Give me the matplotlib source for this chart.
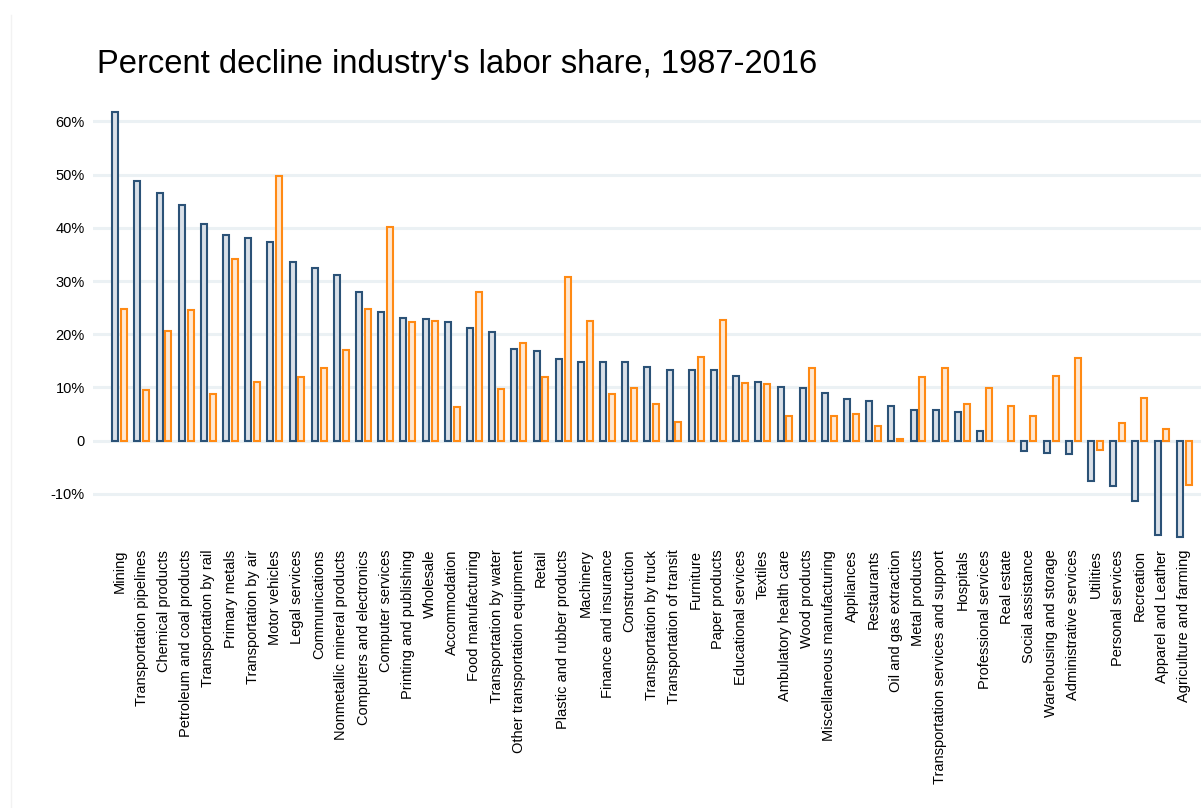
import matplotlib
matplotlib.use('Agg')
import matplotlib.pyplot as plt
import numpy as np

# Industries, sorted by the first series
industries = [
    'Mining', 'Transportation pipelines', 'Chemical products', 'Petroleum and coal products',
    'Transportation by rail', 'Primary metals', 'Transportation by air', 'Motor vehicles',
    'Legal services', 'Communications', 'Nonmetallic mineral products', 'Computers and electronics',
    'Computer services', 'Printing and publishing', 'Wholesale', 'Accommodation',
    'Food manufacturing', 'Transportation by water', 'Other transportation equipment', 'Retail',
    'Plastic and rubber products', 'Machinery', 'Finance and insurance', 'Construction',
    'Transportation by truck', 'Transportation of transit', 'Furniture', 'Paper products',
    'Educational services', 'Textiles', 'Ambulatory health care', 'Wood products',
    'Miscellaneous manufacturing', 'Appliances', 'Restaurants', 'Oil and gas extraction',
    'Metal products', 'Transportation services and support', 'Hospitals', 'Professional services',
    'Real estate', 'Social assistance', 'Warehousing and storage', 'Administrative services',
    'Utilities', 'Personal services', 'Recreation', 'Apparel and Leather', 'Agriculture and farming',
]

# percent decline (blue series)
decline_a = [
    61.7, 48.8, 46.5, 44.2, 40.7, 38.7, 38.0, 37.3, 33.6, 32.5, 31.1, 27.9, 24.2, 23.0, 22.8,
    22.3, 21.1, 20.5, 17.3, 16.9, 15.4, 14.7, 14.7, 14.7, 13.8, 13.2, 13.2, 13.2, 12.1, 11.1,
    10.1, 9.9, 8.9, 7.8, 7.5, 6.5, 5.8, 5.7, 5.3, 1.9, np.nan, -1.9, -2.3, -2.5, -7.6, -8.6,
    -11.3, -17.7, -18.1,
]

# percent decline (orange series)
decline_b = [
    24.8, 9.5, 20.7, 24.6, 8.8, 34.2, 11.0, 49.7, 12.0, 13.7, 17.1, 24.8, 40.2, 22.3, 22.5,
    6.4, 27.9, 9.8, 18.4, 11.9, 30.7, 22.4, 8.8, 9.9, 6.9, 3.6, 15.7, 22.6, 10.9, 10.6,
    4.7, 13.6, 4.6, 5.1, 2.8, 0.4, 11.9, 13.7, 6.9, 9.9, 6.6, 4.7, 12.1, 15.6, -1.7, 3.3,
    8.1, 2.2, -8.3,
]

yticks = [-10, 0, 10, 20, 30, 40, 50, 60]
ytick_labels = ['-10%', '0', '10%', '20%', '30%', '40%', '50%', '60%']

plt.rcParams['font.family'] = ['Liberation Sans', 'DejaVu Sans']

fig = plt.figure(figsize=(12.01, 8.08), dpi=100)
ax = fig.add_axes([93 / 1201, 1 - 540 / 808, 1 - 93 / 1201, 440 / 808])

x = np.arange(len(industries))
w = 0.27
ax.bar(x - 0.2, decline_a, width=w, color='#d9e0e8', edgecolor='#2b5277', linewidth=1.5, zorder=3)
ax.bar(x + 0.2, decline_b, width=w, color='#fee8d3', edgecolor='#ff8a14', linewidth=1.5, zorder=3)

ax.set_xlim(-1.2, 48.76)
ax.set_ylim(-18.65, 64.0)
ax.set_yticks(yticks)
ax.set_yticklabels(ytick_labels, fontsize=10.5)
ax.set_xticks(x)
ax.set_xticklabels(industries, rotation=90, fontsize=10.5)
ax.tick_params(length=0, pad=6)
ax.tick_params(axis='x', pad=7)

ax.grid(axis='y', color='#ebf1f4', linewidth=2.2, zorder=0)
for s in ax.spines.values():
    s.set_visible(False)

# title sits at the figure's top-left
fig.text(97 / 1201, 1 - 65 / 808, "Percent decline industry's labor share, 1987-2016",
         fontsize=23.6, va='center', ha='left')

# faint frame line on the left edge
fig.add_artist(plt.Line2D([11 / 1201, 11 / 1201], [0, 1 - 15 / 808], color='#f2f2f2', linewidth=1))

plt.savefig('out.png', dpi=100)
